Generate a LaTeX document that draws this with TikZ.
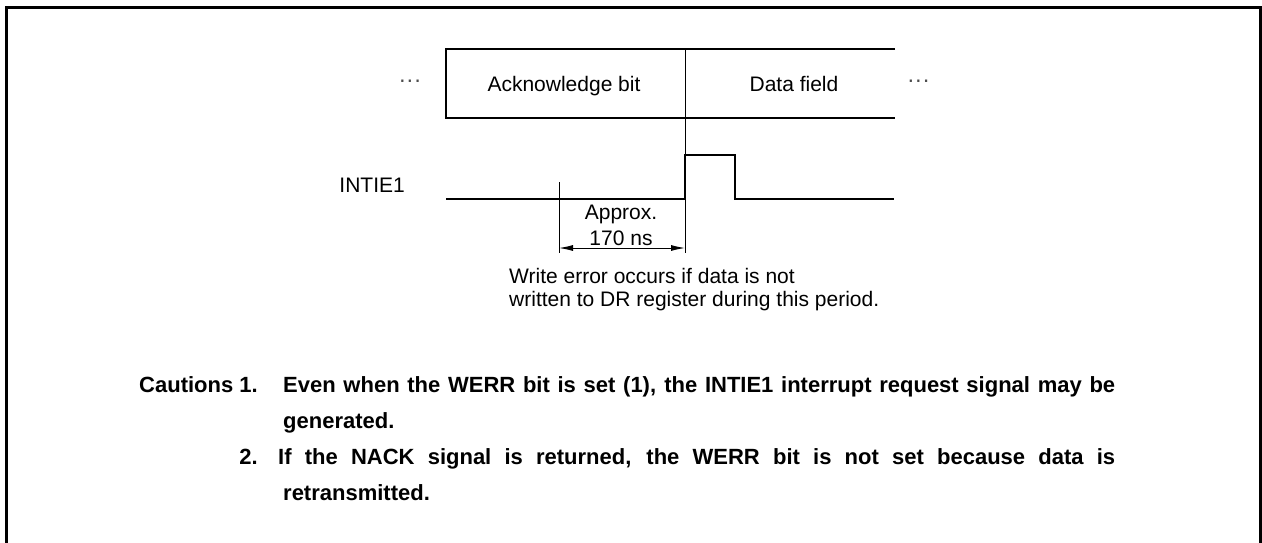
\documentclass[tikz,border=0pt]{standalone}
\usepackage{fontspec}
\setmainfont{Liberation Sans}
\usetikzlibrary{arrows.meta}
\begin{document}
\begin{tikzpicture}[x=1pt,y=-1pt,
  txt/.style={inner sep=0pt,font=\fontsize{21}{25}\selectfont},
  bld/.style={inner sep=0pt,font=\fontsize{22}{26}\selectfont\bfseries},
  frame/.style={line width=3pt},
  boxline/.style={line width=2.5pt},
  sig/.style={line width=2.6pt},
  thinline/.style={line width=1pt},
  dimline/.style={line width=1pt,{Latex[length=14pt,width=6pt]}-{Latex[length=14pt,width=6pt]}},
  dotstyle/.style={inner sep=0pt,text=black!70,font=\fontsize{23}{23}\selectfont}]
\useasboundingbox (0,0) rectangle (1262,543);
% outer frame
\coordinate (f0) at (6.5,546);
\coordinate (f1) at (6.5,7.5);
\coordinate (f2) at (1260.5,7.5);
\coordinate (f3) at (1260.5,546);
\draw[frame] (f0) -- (f1) -- (f2) -- (f3);
% field box
\coordinate (btr) at (895,49);
\coordinate (btl) at (446,49);
\coordinate (bbl) at (446,118);
\coordinate (bbr) at (895,118);
\draw[boxline] (btr) -- (btl) -- (bbl) -- (bbr);
\coordinate (dv0) at (685,49);
\coordinate (dv1) at (685,253);
\draw[thinline] (dv0) -- (dv1);
% signal
\coordinate (s0) at (446,199);
\coordinate (s1) at (685,199);
\coordinate (s2) at (685,155);
\coordinate (s3) at (735,155);
\coordinate (s4) at (735,199);
\coordinate (s5) at (894,199);
\draw[sig] (s0) -- (s1) -- (s2) -- (s3) -- (s4) -- (s5);
% marker and dimension
\coordinate (m0) at (559,182);
\coordinate (m1) at (559,253);
\draw[thinline] (m0) -- (m1);
\coordinate (a0) at (559,248);
\coordinate (a1) at (685,248);
\draw[dimline] (a0) -- (a1);
% texts
\node[dotstyle,anchor=base] (dl) at (410,88) {\char"00B7\char"00B7\char"00B7};
\node[dotstyle,anchor=base] (dr) at (918.5,88) {\char"00B7\char"00B7\char"00B7};
\node[txt,anchor=base] (ack) at (564,92) {Acknowledge bit};
\node[txt,anchor=base] (df) at (794,92) {Data field};
\node[txt,anchor=base east] (intie) at (405,192) {INTIE1};
\node[txt,anchor=base] (apx) at (621,219) {Approx.};
\node[txt,anchor=base] (ns) at (621,245) {170 ns};
\node[txt,anchor=base west] (w1) at (509,283) {Write error occurs if data is not};
\node[txt,anchor=base west] (w2) at (509,306) {written to DR register during this period.};
% cautions
\node[bld,anchor=base east] (c1) at (258,392) {Cautions 1.};
\node[bld,anchor=base west] (l1) at (283,392) {\makebox[832pt][s]{Even when the WERR bit is set (1), the INTIE1 interrupt request signal may be}};
\node[bld,anchor=base west] (l2) at (283,428) {generated.};
\node[bld,anchor=base east] (c2) at (258,464) {2.};
\node[bld,anchor=base west] (l3) at (278,464) {\makebox[837pt][s]{If the NACK signal is returned, the WERR bit is not set because data is}};
\node[bld,anchor=base west] (l4) at (283,500) {retransmitted.};
\end{tikzpicture}
\end{document}
